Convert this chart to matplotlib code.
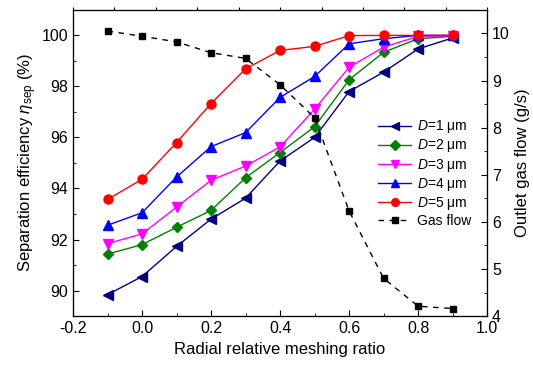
import numpy as np
import matplotlib
matplotlib.use("Agg")
import matplotlib.pyplot as plt
from matplotlib.ticker import MultipleLocator

plt.rcParams['font.family'] = ['Liberation Sans', 'DejaVu Sans']
plt.rcParams['mathtext.fontset'] = 'custom'
plt.rcParams['mathtext.it'] = 'Liberation Sans:italic'
plt.rcParams['mathtext.rm'] = 'Liberation Sans'

ratio = [-0.1, 0.0, 0.1, 0.2, 0.3, 0.4, 0.5, 0.6, 0.7, 0.8, 0.9]

eff_d1 = [89.84, 90.55, 91.73, 92.80, 93.62, 95.08, 96.00, 97.80, 98.56, 99.47, 99.90]
eff_d2 = [91.43, 91.80, 92.48, 93.14, 94.42, 95.41, 96.42, 98.26, 99.34, 99.87, 99.96]
eff_d3 = [91.84, 92.22, 93.27, 94.32, 94.88, 95.63, 97.11, 98.75, 99.54, 99.96, 99.98]
eff_d4 = [92.56, 93.05, 94.45, 95.64, 96.19, 97.57, 98.39, 99.67, 99.87, 100.0, 100.0]
eff_d5 = [93.57, 94.36, 95.80, 97.33, 98.69, 99.41, 99.57, 99.99, 100.0, 100.0, 100.0]
gas_flow = [10.05, 9.94, 9.82, 9.59, 9.47, 8.91, 8.21, 6.23, 4.80, 4.21, 4.16]

labels = [r'$D$=1 $\mathrm{\mu}$m', r'$D$=2 $\mathrm{\mu}$m', r'$D$=3 $\mathrm{\mu}$m',
          r'$D$=4 $\mathrm{\mu}$m', r'$D$=5 $\mathrm{\mu}$m']
colors = ['#000080', '#008000', '#ff00ff', '#0000ff', '#ff0000']
markers = ['<', 'D', 'v', '^', 'o']
sizes = [7, 5.5, 7, 7, 6.5]

fig = plt.figure(figsize=(5.33, 3.65), dpi=100)
ax = fig.add_axes([0.137, 0.134, 0.777, 0.839])

handles = []
for ys, c, m, s, lab in zip([eff_d1, eff_d2, eff_d3, eff_d4, eff_d5], colors, markers, sizes, labels):
    h, = ax.plot(ratio, ys, color=c, marker=m, ms=s, lw=1.0, label=lab)
    handles.append(h)

ax.set_xlim(-0.2, 1.0)
ax.set_ylim(89, 101)
ax.xaxis.set_minor_locator(MultipleLocator(0.1))
ax.yaxis.set_major_locator(MultipleLocator(2))
ax.yaxis.set_minor_locator(MultipleLocator(1))
ax.set_xticks(np.arange(-0.2, 1.01, 0.2))
ax.set_xticklabels(['-0.2', '0.0', '0.2', '0.4', '0.6', '0.8', '1.0'])
ax.tick_params(which='both', direction='in', labelsize=11.5, top=False, right=False)
ax.tick_params(which='major', length=4)
ax.tick_params(which='minor', length=2.5)
ax.set_xlabel('Radial relative meshing ratio', fontsize=12)
ax.set_ylabel(r'Separation efficiency $\eta_{\mathrm{sep}}$ (%)', fontsize=12, labelpad=2)

ax2 = ax.twinx()
h, = ax2.plot(ratio, gas_flow, color='black', ls=(0, (4, 4)), lw=1.0, marker='s', ms=5, label='Gas flow')
handles.append(h)
ax2.set_ylim(4, 10.5)
ax2.yaxis.set_major_locator(MultipleLocator(1))
ax2.yaxis.set_minor_locator(MultipleLocator(0.5))
ax2.tick_params(which='both', direction='in', labelsize=11.5)
ax2.tick_params(which='major', length=4)
ax2.tick_params(which='minor', length=2.5)
ax2.set_ylabel('Outlet gas flow (g/s)', fontsize=12)

ax3 = ax.twiny()
ax3.set_xlim(0, 1)
ax3.xaxis.set_major_locator(MultipleLocator(0.1))
ax3.tick_params(direction='out', length=2.5, labeltop=False)

ax3.legend(handles=handles, loc='center right', bbox_to_anchor=(0.985, 0.467),
           frameon=False, fontsize=10, handlelength=2.4, handletextpad=0.4,
           labelspacing=0.15, borderaxespad=0.3, markerscale=0.85)

fig.savefig('out.png', dpi=100)
